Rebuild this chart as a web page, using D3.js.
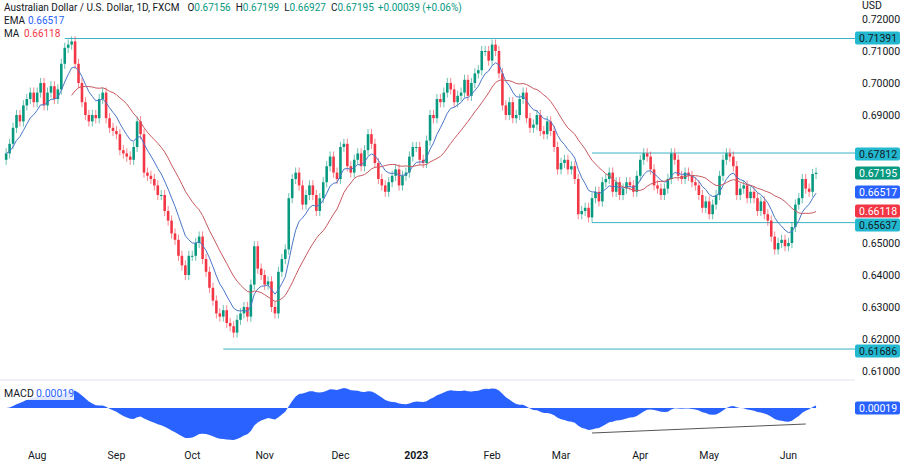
<!DOCTYPE html>
<html><head><meta charset="utf-8">
<script src="https://cdn.jsdelivr.net/npm/d3@7"></script>
<style>body{margin:0;background:#fff}svg{font-family:Roboto,sans-serif}</style>
</head><body><svg id="c" width="900" height="461"></svg>
<script>
// daily closes, Jul 2022 .. Jun 2023
const closes = [
  0.678,0.681,0.686,0.690,0.688,0.693,0.695,0.697,0.694,
  0.697,0.700,0.693,0.697,0.699,0.695,0.698,0.706,0.711,0.712,0.713,0.706,0.700,0.694,0.690,0.688,0.690,0.689,0.695,0.697,0.689,0.686,0.685,
  0.684,0.679,0.678,0.677,0.676,0.680,0.688,0.684,0.672,0.671,0.670,0.668,0.665,0.665,0.660,0.657,0.653,0.651,0.646,0.643,0.640,0.646,
  0.646,0.650,0.652,0.645,0.641,0.636,0.632,0.628,0.627,0.629,0.625,0.624,0.622,0.626,0.628,0.630,0.627,0.637,0.649,0.642,0.640,
  0.637,0.638,0.630,0.628,0.641,0.645,0.648,0.664,0.670,0.672,0.668,0.662,0.665,0.668,0.665,0.660,0.664,0.669,0.674,0.677,0.672,0.670,
  0.680,0.681,0.674,0.672,0.676,0.678,0.674,0.679,0.684,0.681,0.675,0.670,0.668,0.666,0.669,0.671,0.673,0.668,0.671,0.672,0.677,0.680,
  0.680,0.676,0.675,0.682,0.690,0.689,0.695,0.694,0.697,0.700,0.698,0.694,0.696,0.697,0.701,0.696,0.700,0.703,0.704,0.710,0.710,0.707,
  0.712,0.710,0.703,0.693,0.690,0.694,0.689,0.690,0.695,0.697,0.689,0.686,0.687,0.690,0.685,0.684,0.688,0.685,0.680,0.673,
  0.675,0.676,0.673,0.674,0.670,0.659,0.660,0.661,0.658,0.664,0.666,0.663,0.669,0.670,0.672,0.666,0.669,0.665,0.667,0.669,0.668,0.666,0.671,
  0.676,0.678,0.677,0.673,0.668,0.667,0.665,0.667,0.670,0.678,0.676,0.671,0.670,0.672,0.671,0.669,0.668,0.665,0.661,0.663,
  0.659,0.662,0.665,0.671,0.676,0.678,0.677,0.674,0.665,0.667,0.668,0.664,0.666,0.664,0.660,0.663,0.659,0.657,0.652,0.648,0.650,0.651,0.649,
  0.650,0.655,0.662,0.664,0.670,0.667,0.666,0.67156,0.67195
];
const firstOpen = 0.676;
const months = ["Aug","Sep","Oct","Nov","Dec","2023","Feb","Mar","Apr","May","Jun"];
const monthStart = [9,32,54,75,97,119,141,161,184,204,227];
const priceTicks = [0.72,0.71,0.70,0.69,0.68,0.67,0.66,0.65,0.64,0.63,0.62,0.61];
const levels = [{v:0.71391,from:17},{v:0.67812,from:170},{v:0.65637,from:170},{v:0.61686,from:63}];

const svg = d3.select("#c");
const up = "#089981", dn = "#f23645", lvl = "#3bb3c3";
const n = closes.length;
const x = d3.scaleBand().domain(d3.range(n)).range([4, 4 + n*3.45]).padding(0.25);
const cx = i => x(i) + x.bandwidth()/2;
const y = d3.scaleLinear().domain([0.61,0.72]).range([371,19]);

const candles = closes.map((c,i) => {
  const o = i ? closes[i-1] : firstOpen;
  return {i, o, c, h: Math.max(o,c)+0.0016, l: Math.min(o,c)-0.0016};
});

// indicators from the closes
const ema = (arr,p) => { const k=2/(p+1); let e=arr[0]; return arr.map(v => e = v*k + e*(1-k)); };
const ema9 = ema(closes,9);
const ma20 = closes.map((c,i) => i < 19 ? null : d3.mean(closes.slice(i-19,i+1)));
const e12 = ema(closes,12), e26 = ema(closes,26);
const macd = e12.map((v,i) => v - e26[i]);

svg.append("line").attr("x1",0).attr("x2",855).attr("y1",380).attr("y2",380).attr("stroke","#e0e3eb");

// levels
levels.forEach(d => {
  svg.append("line").attr("x1",cx(d.from)).attr("x2",855).attr("y1",y(d.v)).attr("y2",y(d.v))
    .attr("stroke",lvl).attr("stroke-width",1);
});

// candles
const g = svg.append("g");
g.selectAll("line.w").data(candles).join("line").attr("class","w")
  .attr("x1",d=>cx(d.i)).attr("x2",d=>cx(d.i)).attr("y1",d=>y(d.h)).attr("y2",d=>y(d.l))
  .attr("stroke",d=>d.c>=d.o?up:dn).attr("stroke-opacity",0.6);
g.selectAll("rect").data(candles).join("rect")
  .attr("x",d=>x(d.i)).attr("width",x.bandwidth())
  .attr("y",d=>y(Math.max(d.o,d.c))).attr("height",d=>Math.max(1,Math.abs(y(d.o)-y(d.c))))
  .attr("fill",d=>d.c>=d.o?up:dn);

svg.append("path").attr("d",d3.line().x((d,i)=>cx(i)).y(d=>y(d))(ema9))
  .attr("fill","none").attr("stroke","#4a76c8").attr("stroke-width",1);
svg.append("path").attr("d",d3.line().defined(d=>d!==null).x((d,i)=>cx(i)).y(d=>y(d))(ma20))
  .attr("fill","none").attr("stroke","#c8595f").attr("stroke-width",1);

const tags = [
  {v:0.71391,c:"#22b8cf",ty:38},{v:0.67812,c:"#22b8cf",ty:154},{v:0.67195,c:up,ty:173},
  {v:0.66517,c:"#2962ff",ty:192},{v:0.66118,c:dn,ty:211},{v:0.65637,c:"#22b8cf",ty:225},{v:0.61686,c:"#22b8cf",ty:351}
];

// price axis (ticks hidden behind a tag are left out)
svg.append("g").selectAll("text").data(priceTicks.filter(d => !tags.some(t => Math.abs(t.ty - y(d)) < 12))).join("text")
  .attr("x",862).attr("y",d=>y(d)+4).attr("font-size",10.5).attr("fill","#131722").text(d=>d.toFixed(5));
svg.append("text").attr("x",862).attr("y",9).attr("font-size",10.5).attr("fill","#131722").text("USD");

tags.forEach(t => {
  const ty = t.ty;
  svg.append("rect").attr("x",855).attr("y",ty-6.5).attr("width",45).attr("height",13).attr("fill",t.c).attr("rx",2);
  svg.append("text").attr("x",859).attr("y",ty+4).attr("font-size",10.5).attr("fill",t.c==="#22b8cf"?"#131722":"#fff").text(t.v.toFixed(5));
});

// MACD pane
const yM = d3.scaleLinear().domain([d3.min(macd),0,d3.max(macd)]).range([440,408,388]);
svg.append("path").attr("d",d3.area().x((d,i)=>cx(i)).y0(yM(0)).y1(d=>yM(d))(macd)).attr("fill","#2962ff");
svg.append("line").attr("x1",cx(170)).attr("y1",433).attr("x2",cx(232)).attr("y2",424).attr("stroke","#555").attr("stroke-width",1);
svg.append("rect").attr("x",2).attr("y",387).attr("width",72).attr("height",13).attr("fill","#fff").attr("fill-opacity",0.85);
svg.append("text").attr("x",4).attr("y",397).attr("font-size",10.5).attr("fill","#131722").text("MACD");
svg.append("text").attr("x",36).attr("y",397).attr("font-size",10.5).attr("fill","#2962ff").text("0.00019");
svg.append("rect").attr("x",855).attr("y",401.5).attr("width",45).attr("height",13).attr("fill","#2962ff").attr("rx",2);
svg.append("text").attr("x",859).attr("y",412).attr("font-size",10.5).attr("fill","#fff").text("0.00019");

// time axis
svg.append("g").selectAll("text").data(months).join("text")
  .attr("x",(d,i)=>cx(monthStart[i])).attr("y",459).attr("text-anchor","middle").attr("font-size",10.5)
  .attr("font-weight",d=>d==="2023"?"bold":"normal").attr("fill","#131722").text(d=>d);

// header
const h = svg.append("text").attr("x",4).attr("y",11).attr("font-size",10).attr("fill","#131722");
h.append("tspan").text("Australian Dollar / U.S. Dollar, 1D, FXCM");
[["O","0.67156"],["H","0.67199"],["L","0.66927"],["C","0.67195"]].forEach(([k,v],i)=>{
  h.append("tspan").attr("dx",i?5:8).text(k); h.append("tspan").attr("fill",up).text(v);
});
h.append("tspan").attr("dx",4).attr("fill",up).text("+0.00039 (+0.06%)");
svg.append("text").attr("x",4).attr("y",24).attr("font-size",10).attr("fill","#131722").text("EMA");
svg.append("text").attr("x",28).attr("y",24).attr("font-size",10).attr("fill","#2962ff").text("0.66517");
svg.append("text").attr("x",4).attr("y",37).attr("font-size",10).attr("fill","#131722").text("MA");
svg.append("text").attr("x",24).attr("y",37).attr("font-size",10).attr("fill",dn).text("0.66118");
</script></body></html>
